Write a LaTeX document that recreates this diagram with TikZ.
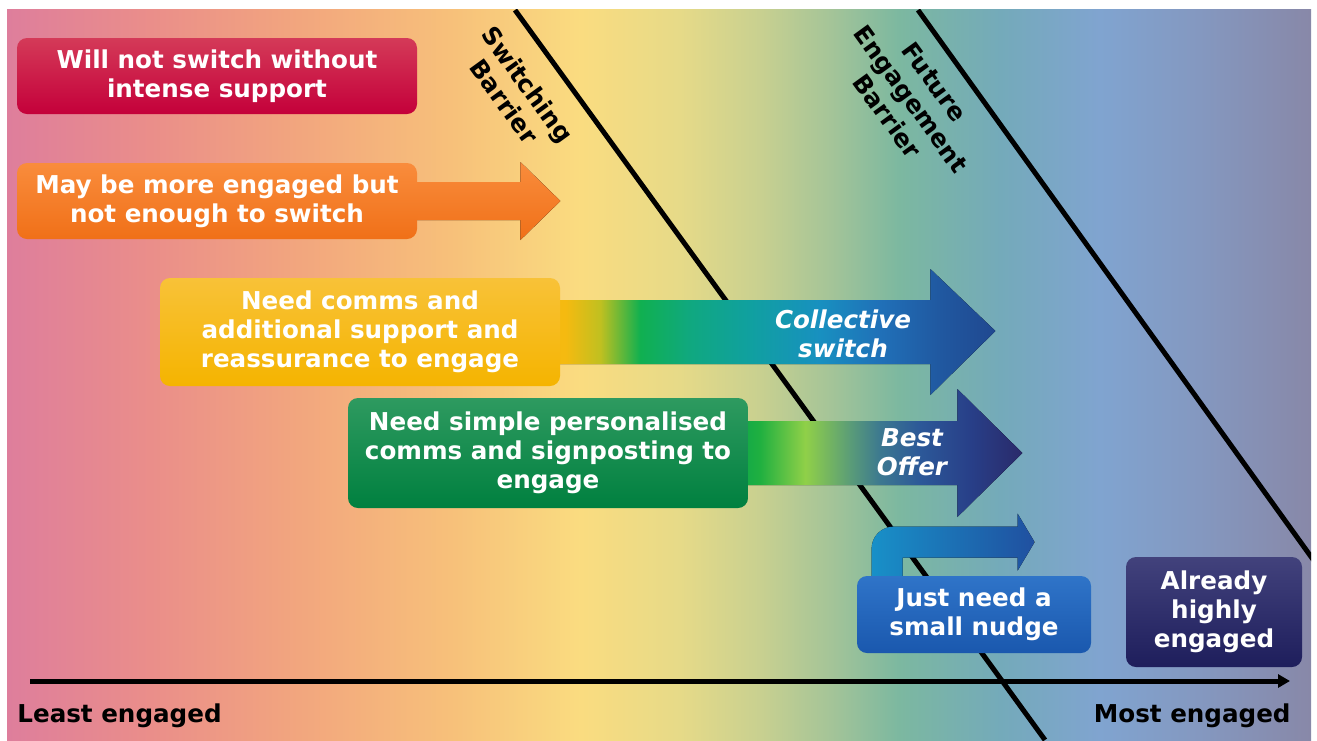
\documentclass[tikz,border=0pt]{standalone}
\usepackage{fontspec}
\setmainfont{DejaVu Sans}
\usepackage{xcolor}
\usetikzlibrary{calc,arrows.meta}

% colours of the boxes
\definecolor{redT}{HTML}{D43A58}
\definecolor{redB}{HTML}{C4003A}
\definecolor{orgT}{HTML}{F98C3C}
\definecolor{orgB}{HTML}{F07018}
\definecolor{ylwT}{HTML}{F8C238}
\definecolor{ylwB}{HTML}{F5B400}
\definecolor{grnT}{HTML}{2E9A60}
\definecolor{grnB}{HTML}{00803F}
\definecolor{nudT}{HTML}{2F74C8}
\definecolor{nudB}{HTML}{1A58AE}
\definecolor{ahT}{HTML}{42427C}
\definecolor{ahB}{HTML}{1E1E5C}
\definecolor{nudL}{HTML}{1890C8}
\definecolor{nudR}{HTML}{2050A0}

% background stripe colours
\definecolor{bgA}{HTML}{DE7E9C}
\definecolor{bgB}{HTML}{EA8E8A}
\definecolor{bgC}{HTML}{F2A67E}
\definecolor{bgD}{HTML}{F7C07A}
\definecolor{bgE}{HTML}{FADC80}
\definecolor{bgF}{HTML}{E6DA88}
\definecolor{bgG}{HTML}{C8D090}
\definecolor{bgH}{HTML}{A4C498}
\definecolor{bgI}{HTML}{7CB8A0}
\definecolor{bgJ}{HTML}{74AABA}
\definecolor{bgK}{HTML}{80A4D0}
\definecolor{bgL}{HTML}{8498C0}
\definecolor{bgM}{HTML}{8888A8}

% arrow colours
\definecolor{caA}{HTML}{F5BA10}
\definecolor{caB}{HTML}{C0C020}
\definecolor{caC}{HTML}{10B050}
\definecolor{caD}{HTML}{10A880}
\definecolor{caE}{HTML}{10A0A0}
\definecolor{caF}{HTML}{1890C0}
\definecolor{caG}{HTML}{2070B8}
\definecolor{caH}{HTML}{2058A0}
\definecolor{caI}{HTML}{204890}
\definecolor{boA}{HTML}{10A848}
\definecolor{boB}{HTML}{20B040}
\definecolor{boC}{HTML}{90D048}
\definecolor{boD}{HTML}{5A9C78}
\definecolor{boE}{HTML}{3C7890}
\definecolor{boF}{HTML}{2C5898}
\definecolor{boG}{HTML}{283F88}
\definecolor{boH}{HTML}{2A2A6A}

\pgfdeclarehorizontalshading{bgshade}{100bp}{color(0bp)=(bgA); color(25bp)=(bgA);
  color(30.5bp)=(bgB); color(36.2bp)=(bgC); color(42bp)=(bgD); color(47bp)=(bgE);
  color(50.8bp)=(bgF); color(53.9bp)=(bgG); color(56.6bp)=(bgH); color(59.2bp)=(bgI);
  color(63.1bp)=(bgJ); color(66.9bp)=(bgK); color(70.7bp)=(bgL); color(75bp)=(bgM);
  color(100bp)=(bgM)}
\pgfdeclarehorizontalshading{colshade}{100bp}{color(0bp)=(caA); color(26.5bp)=(caA);
  color(30.4bp)=(caB); color(34.9bp)=(caC); color(40.6bp)=(caD); color(47.3bp)=(caE);
  color(55.2bp)=(caF); color(62bp)=(caG); color(68.8bp)=(caH); color(75bp)=(caI);
  color(100bp)=(caI)}
\pgfdeclarehorizontalshading{bestshade}{100bp}{color(0bp)=(boA); color(25bp)=(boA);
  color(28.5bp)=(boB); color(36.5bp)=(boC); color(44.5bp)=(boD); color(49.8bp)=(boE);
  color(56.9bp)=(boF); color(65.8bp)=(boG); color(75bp)=(boH); color(100bp)=(boH)}

\pgfdeclarelayer{bgfill}
\pgfdeclarelayer{arrowlayer}
\pgfsetlayers{bgfill,arrowlayer,main}

\newcommand{\boxfont}{\fontsize{12.3}{14.5}\selectfont\bfseries}

\begin{document}
\begin{tikzpicture}[x=0.5pt,y=-0.5pt]
            \tikzset{
            grp box/.style={rounded corners=5pt,text=white,align=center,font=\boxfont,inner sep=0pt},
            bar line/.style={line width=2.5pt},
            bar label/.style={rotate=-54,align=center,font=\boxfont,inner sep=0pt},
            arr label/.style={text=white,align=center,font=\boxfont\itshape,inner sep=0pt},
            axis line/.style={line width=2.5pt,-{Triangle[length=6pt,width=6.5pt]}}
            }
            \useasboundingbox (0,0) rectangle (1317,740);

            % groups
            \node[grp box,top color=redT,bottom color=redB,minimum width=200pt,minimum height=38pt] (wns) at (217,76) {Will not switch without\\intense support};
            \node[grp box,top color=orgT,bottom color=orgB,minimum width=200pt,minimum height=38pt] (meb) at (217,201) {May be more engaged but\\not enough to switch};
            \node[grp box,top color=ylwT,bottom color=ylwB,minimum width=200pt,minimum height=54pt] (ncs) at (360,332) {Need comms and\\additional support and\\reassurance to engage};
            \node[grp box,top color=grnT,bottom color=grnB,minimum width=200pt,minimum height=55pt] (nsp) at (548,453) {Need simple personalised\\comms and signposting to\\engage};
            \node[grp box,top color=nudT,bottom color=nudB,minimum width=117pt,minimum height=38.5pt] (nudge) at (974,614.5) {Just need a\\small nudge};
            \node[grp box,top color=ahT,bottom color=ahB,minimum width=88pt,minimum height=55pt] (ahe) at (1214,612) {Already\\highly\\engaged};

            \node[arr label] (colab) at (843,334) {Collective\\switch};
            \node[arr label] (bestlab) at (912,452) {Best\\Offer};

            % barriers
            \coordinate (sb1) at (515,10);
            \coordinate (sb2) at (1045,740);
            \coordinate (fb1) at (918,10);
            \coordinate (fb2) at (1450,750);
            \node[bar label] (sblab) at (516,93) {Switching\\Barrier};
            \node[bar label] (fblab) at (911,99) {Future\\Engagement\\Barrier};

            % engagement axis
            \coordinate (lo) at (30,681);
            \coordinate (hi) at (1290,681);
            \draw[axis line] (lo) -- (hi);
            \node[font=\boxfont,anchor=base west,inner sep=0pt] (least) at (17,722) {Least engaged};
            \node[font=\boxfont,anchor=base east,inner sep=0pt] (most) at (1291,722) {Most engaged};

            \begin{pgfonlayer}{bgfill}
            \fill[shading=bgshade] (7,9) rectangle (1311,740);
            \begin{scope}
            \clip (7,9) rectangle (1311,740);
            \draw[bar line] (sb1) -- (sb2);
            \draw[bar line] (fb1) -- (fb2);
            \end{scope}
            \end{pgfonlayer}

            \begin{pgfonlayer}{arrowlayer}
            \fill[top color=orgT,bottom color=orgB]
              ($(meb.east)+(-8,-19)$) -- ++(111,0) -- ++(0,-20) -- ($(meb.east)+(143,0)$)
              -- ($(meb.east)+(103,39)$) -- ++(0,-20) -- ($(meb.east)+(-8,19)$) -- cycle;
            \fill[shading=colshade]
              ($(ncs.east)+(-8,-32)$) -- ++(378,0) -- ++(0,-31) -- ($(ncs.east)+(435,-1)$)
              -- ($(ncs.east)+(370,63)$) -- ++(0,-31) -- ($(ncs.east)+(-8,32)$) -- cycle;
            \fill[shading=bestshade]
              ($(nsp.east)+(-8,-32)$) -- ++(217,0) -- ++(0,-32) -- ($(nsp.east)+(274,0)$)
              -- ($(nsp.east)+(209,64)$) -- ++(0,-32) -- ($(nsp.east)+(-8,32)$) -- cycle;
            \fill[left color=nudL,right color=nudR]
              ($(nudge.north west)+(15,6)$) -- ($(nudge.north west)+(15,-27)$)
              arc[start angle=180,end angle=270,radius=22] -- ($(nudge.north west)+(161,-49)$)
              -- ++(0,-13) -- ($(nudge.north west)+(178,-33.5)$) -- ($(nudge.north west)+(161,-5)$)
              -- ++(0,-13) -- ($(nudge.north west)+(46,-18)$) -- ($(nudge.north west)+(46,6)$) -- cycle;
            \end{pgfonlayer}
        \end{tikzpicture}
\end{document}
